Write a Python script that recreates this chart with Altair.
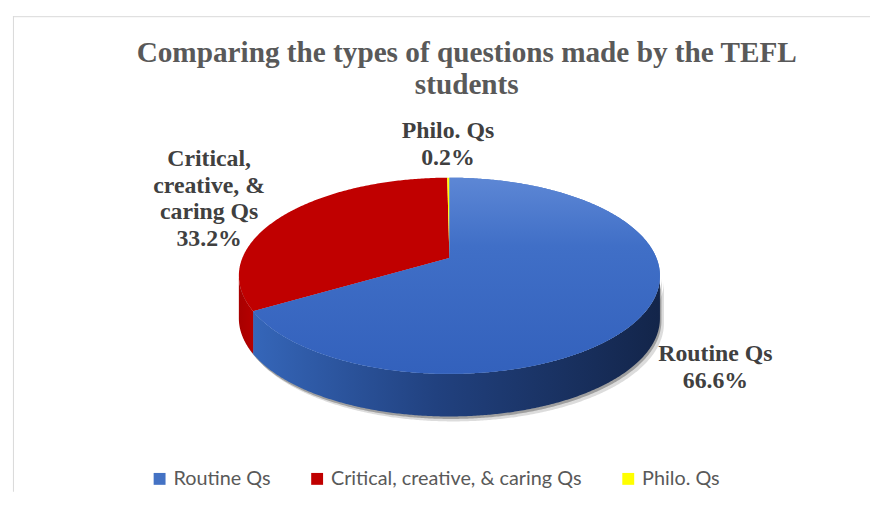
import math
import numpy as np
import pandas as pd
import altair as alt

# ---------------- data ----------------
categories = ["Routine Qs", "Critical, creative, & caring Qs", "Philo. Qs"]
values = [66.6, 33.2, 0.2]
colors = ["#4472C4", "#C00000", "#FFFF00"]
label_names = [["Routine Qs"], ["Critical,", "creative, &", "caring Qs"], ["Philo. Qs"]]
title_lines = ["Comparing the types of questions made by the TEFL", "students"]

# ---------------- layout (page pixels) ----------------
PAD_L, PAD_T = 5, 6
W, H = 865, 480
OX, OY = 8 + PAD_L, 8 + PAD_T          # page position of plot origin
CX, CY, RX = 453.5, 276.0, 212.5       # ellipse centre / unit length
K = 99.0 / RX                          # vertical squash of the top face
DEPTH = 43.0 / RX                      # thickness of the pie
APEX = (0.0, 18.0 / RX)                # projected pie centre (units)
label_page_xy = [(722, 362), (211, 165), (452, 137)]   # first-line baselines


def to_u(px):
    return (px - CX) / RX


def to_v(py):
    return (CY - py) / RX


def rim_param(t):
    """ellipse parameter (deg) of the rim point seen along data angle t"""
    tr = math.radians(t)
    du, dv = math.sin(tr), K * math.cos(tr)
    au, av = APEX
    B = 2 * (au * du + av * dv / K ** 2)
    C = au ** 2 + (av / K) ** 2 - 1
    lam = (-B + math.sqrt(B * B - 4 * C)) / 2
    pu, pv = au + lam * du, av + lam * dv
    s = math.degrees(math.atan2(pu, pv / K)) % 360
    if t > 180 and s < 90:
        s += 360
    if t == 0:
        s = 0.0
    return s


def rim(s0, s1, dv=0.0, du=0.0):
    n = max(2, int(math.ceil(abs(s1 - s0) / 0.5)) + 1)
    ss = np.radians(np.linspace(s0, s1, n))
    return [(math.sin(s) + du, K * math.cos(s) + dv) for s in ss]


rows = []


def add_poly(pid, cat, pts):
    for i, (u, v) in enumerate(pts):
        rows.append(dict(poly=pid, cat=cat, i=i, u=u, v=v))


total = sum(values)
bt = [0.0]
for val in values:
    bt.append(bt[-1] + val / total * 360.0)
bs = [rim_param(t) for t in bt]

# shadows
for name, sh_x, sh_y in [("shadow2", 4.0, 5.0), ("shadow1", 1.5, 2.5)]:
    top_edge = rim(90, 270, dv=-sh_y / RX, du=sh_x / RX)
    bot_edge = rim(270, 90, dv=-DEPTH - sh_y / RX, du=sh_x / RX)
    add_poly(name, "", top_edge + bot_edge)

for k, cat in enumerate(categories):
    s0, s1 = bs[k], bs[k + 1]
    add_poly(f"top{k}", cat, [APEX] + rim(s0, s1) + [APEX])
    a, b = max(s0, 90), min(s1, 270)
    if b > a:
        add_poly(f"side{k}", cat, rim(a, b) + rim(b, a, dv=-DEPTH))

df = pd.DataFrame(rows)

lab = pd.DataFrame({
    "cat": categories,
    "text": ["\n".join(n + [f"{v:.1f}%"]) for n, v in zip(label_names, values)],
    "u": [to_u(p[0]) for p in label_page_xy],
    "v": [to_v(p[1]) for p in label_page_xy],
})

# ---------------- encodings ----------------
xs = alt.Scale(domain=[to_u(OX), to_u(OX + W)], nice=False, zero=False)
ys = alt.Scale(domain=[to_v(OY + H), to_v(OY)], nice=False, zero=False)
X = alt.X("u:Q", scale=xs, axis=None)
Y = alt.Y("v:Q", scale=ys, axis=None)


def grad(stops, horizontal=True):
    return {
        "gradient": "linear",
        "x1": 0, "y1": 0,
        "x2": 1 if horizontal else 0,
        "y2": 0 if horizontal else 1,
        "stops": [{"offset": o, "color": c} for o, c in stops],
    }


base = alt.Chart(df)


def poly_layer(pid, fill, opacity=1.0):
    return base.transform_filter(alt.datum.poly == pid).mark_line(
        fill=fill, strokeWidth=0, fillOpacity=opacity
    ).encode(x=X, y=Y, order="i:Q")


border_top = alt.Chart(pd.DataFrame({"a": [0]})).mark_rule(color="#D9D9D9", strokeWidth=1).encode(
    x=alt.value(0), x2=alt.value(W), y=alt.value(0.5))
border_left = alt.Chart(pd.DataFrame({"a": [0]})).mark_rule(color="#D9D9D9", strokeWidth=1).encode(
    x=alt.value(0.5), y=alt.value(0), y2=alt.value(H))

shadow2 = poly_layer("shadow2", "#9A9A9A", 0.35)
shadow1 = poly_layer("shadow1", "#6E6E6E", 0.55)
side_blue = poly_layer("side0", grad([(0, "#3566B9"), (0.45, "#21417F"), (1, "#13254A")]))
side_red = poly_layer("side1", grad([(0, "#A80000"), (1, "#B50000")]))

tops = base.transform_filter(alt.FieldOneOfPredicate(field="poly", oneOf=["top0", "top1", "top2"])).mark_line(
    strokeWidth=0
).encode(
    x=X, y=Y, order="i:Q", detail="poly:N",
    fill=alt.Fill("cat:N", scale=alt.Scale(domain=categories, range=colors),
                  sort=categories,
                  legend=alt.Legend(title=None, orient="none", direction="horizontal",
                                    legendX=138, legendY=457,
                                    symbolType="square", symbolSize=144, symbolStrokeWidth=0,
                                    labelFont="Lato", labelFontSize=20, labelColor="#595959",
                                    labelLimit=500, labelOffset=4, columnPadding=36, padding=0)),
)
blue_top = poly_layer("top0", grad([(0, "#5D87D5"), (0.35, "#406FC7"), (1, "#3361BC")], horizontal=False))

labels = alt.Chart(lab).mark_text(
    align="center", baseline="alphabetic", lineBreak="\n", lineHeight=27,
    font="Liberation Serif", fontWeight="bold", fontSize=24, color="#404040"
).encode(x=X, y=Y, text="text:N")

title = alt.Chart(pd.DataFrame({"t": ["\n".join(title_lines)]})).mark_text(
    align="center", baseline="alphabetic", lineBreak="\n", lineHeight=33,
    font="Liberation Serif", fontWeight="bold", fontSize=29.5, color="#595959"
).encode(x=alt.value(471 - OX), y=alt.value(60 - OY), text="t:N")

chart = alt.layer(
    border_top, border_left, shadow2, shadow1, side_blue, side_red, tops, blue_top, labels, title
).properties(
    width=W, height=H,
    autosize=alt.AutoSizeParams(type="none"),
    padding={"left": PAD_L, "top": PAD_T, "right": 0, "bottom": 0},
).configure_view(stroke="transparent")

chart.save("out.html", embed_options={"renderer": "svg", "actions": False})
